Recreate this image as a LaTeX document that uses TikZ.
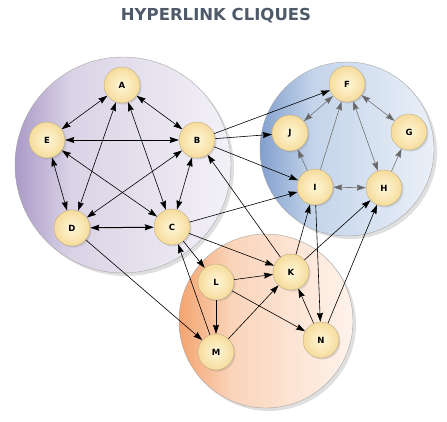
\documentclass[tikz,border=0pt]{standalone}
\usepackage{xcolor}
\usepackage{fontspec}
\usepackage{tikz}
\usetikzlibrary{positioning,arrows.meta,shadows}
\setmainfont{DejaVu Sans}
\definecolor{titlegray}{RGB}{78,90,106}
\definecolor{purpledark}{RGB}{170,154,198}
\definecolor{purplemid}{RGB}{218,211,230}
\definecolor{purplelight}{RGB}{243,241,247}
\definecolor{bluedark}{RGB}{130,160,206}
\definecolor{bluemid}{RGB}{196,212,234}
\definecolor{bluelight}{RGB}{234,240,248}
\definecolor{orangedark}{RGB}{243,164,112}
\definecolor{orangemid}{RGB}{250,212,186}
\definecolor{orangelight}{RGB}{254,243,236}
\definecolor{sitein}{RGB}{255,246,216}
\definecolor{siteout}{RGB}{246,220,156}
\definecolor{siteline}{RGB}{190,172,130}
\pgfdeclarehorizontalshading{purpleshade}{100bp}{color(0bp)=(purpledark); color(25bp)=(purpledark); color(38bp)=(purplemid); color(75bp)=(purplelight); color(100bp)=(purplelight)}
\pgfdeclarehorizontalshading{blueshade}{100bp}{color(0bp)=(bluedark); color(25bp)=(bluedark); color(40bp)=(bluemid); color(75bp)=(bluelight); color(100bp)=(bluelight)}
\pgfdeclarehorizontalshading{orangeshade}{100bp}{color(0bp)=(orangedark); color(25bp)=(orangedark); color(40bp)=(orangemid); color(75bp)=(orangelight); color(100bp)=(orangelight)}
\tikzset{
  clique/.style={draw=gray!70, thin, shade, drop shadow={opacity=0.25, shadow xshift=3pt, shadow yshift=-3pt}},
  site/.style={circle, draw=siteline, inner color=sitein, outer color=siteout, minimum size=36pt,
               inner sep=0pt, font=\fontsize{8.5}{10}\selectfont\bfseries,
               drop shadow={opacity=0.25, shadow xshift=1.5pt, shadow yshift=-1.5pt}},
  link/.style={-{Stealth[length=9pt, width=6pt, inset=1pt]}, line width=0.6pt},
  mutual/.style={link, {Stealth[length=9pt, width=6pt, inset=1pt]}-{Stealth[length=9pt, width=6pt, inset=1pt]}},
  inlink/.style={link, draw=black!55, -{Stealth[length=9pt, width=6pt, inset=1pt, fill=black!60]}},
  inmutual/.style={inlink, {Stealth[length=9pt, width=6pt, inset=1pt, fill=black!60]}-{Stealth[length=9pt, width=6pt, inset=1pt, fill=black!60]}}
}

\begin{document}
\begin{tikzpicture}[x=1pt, y=-1pt]
    \useasboundingbox (0,0) rectangle (447,421);
    \node[font=\fontsize{16.5}{18}\selectfont\bfseries, text=titlegray] (title) at (216,16) {HYPERLINK CLIQUES};
    \path[clique, shading=purpleshade] (123,165) circle (108);
    \path[clique, shading=blueshade] (347,149) circle (87);
    \path[clique, shading=orangeshade] (266,321) circle (87);
    \node[site] (a) at (122,85) {A};
    \node[site] (b) at (197,140) {B};
    \node[site] (c) at (172,227) {C};
    \node[site] (d) at (72,228) {D};
    \node[site] (e) at (47,140) {E};
    \node[site] (f) at (347,84) {F};
    \node[site] (g) at (409,132) {G};
    \node[site] (h) at (384,188) {H};
    \node[site] (i) at (315,187) {I};
    \node[site] (j) at (290,133) {J};
    \node[site] (k) at (291,272) {K};
    \node[site] (l) at (216,282) {L};
    \node[site] (m) at (216,352) {M};
    \node[site] (n) at (321,340) {N};
    \draw[mutual] (a) -- (b); \draw[mutual] (a) -- (e); \draw[mutual] (a) -- (d);
    \draw[mutual] (a) -- (c); \draw[mutual] (e) -- (d); \draw[mutual] (e) -- (c);
    \draw[mutual] (b) -- (d); \draw[mutual] (b) -- (c);
    \draw[mutual, line width=1pt] (e) -- (b); \draw[mutual, line width=1pt] (d) -- (c);
    \draw[inmutual] (f) -- (j); \draw[inmutual] (f) -- (g); \draw[inmutual] (f) -- (h);
    \draw[inmutual] (i) -- (h); \draw[inlink] (i) -- (f); \draw[inlink] (i) -- (j);
    \draw[inlink] (h) -- (g);
    \draw[link] (b) -- (f); \draw[link] (b) -- (j); \draw[link] (b) -- (i);
    \draw[link] (c) -- (i); \draw[link] (c) -- (l); \draw[link] (c) -- (k);
    \draw[link] (l) -- (k); \draw[link] (l) -- (m); \draw[link] (l) -- (n);
    \draw[link] (m) -- (k); \draw[link] (m) -- (c); \draw[link] (n) -- (k);
    \draw[link] (i) -- (n); \draw[link] (d) -- (m); \draw[link] (k) -- (b);
    \draw[link] (k) -- (i); \draw[link] (k) -- (h); \draw[link] (n) -- (h);
  \end{tikzpicture}
\end{document}
